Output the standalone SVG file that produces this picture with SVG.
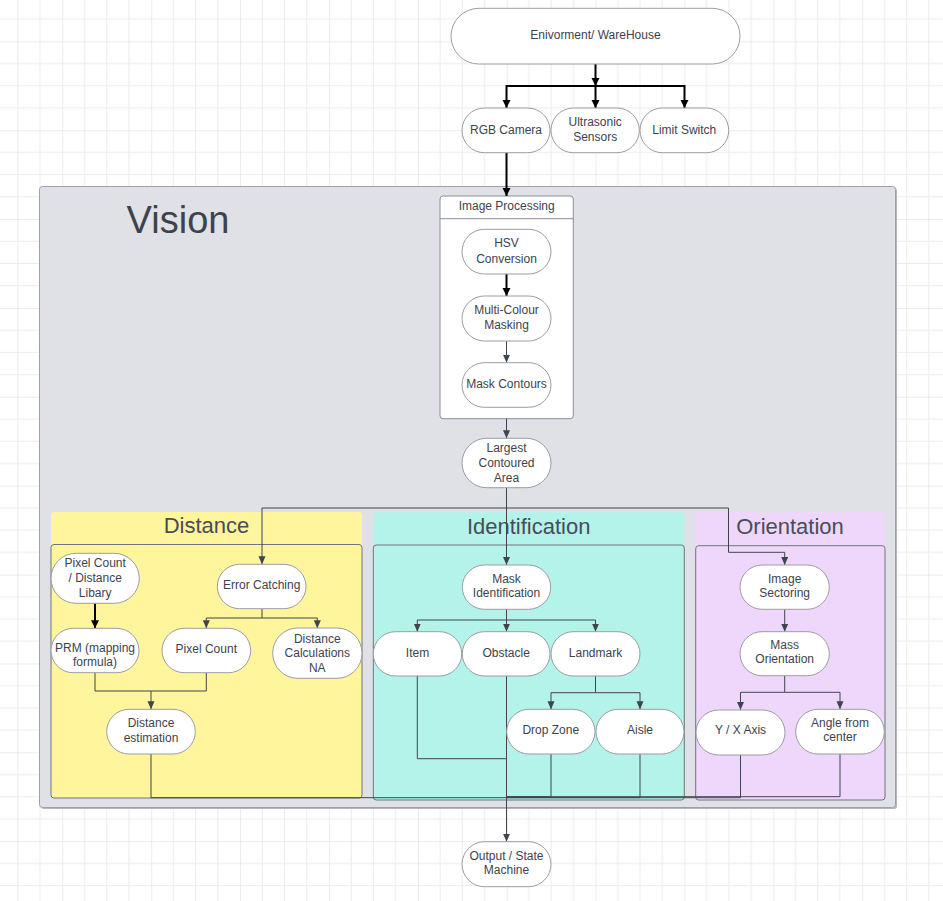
<svg xmlns="http://www.w3.org/2000/svg" width="943" height="901" viewBox="0 0 943 901">
  <defs>
    <pattern id="grid" patternUnits="userSpaceOnUse" x="62.3" y="41.3" width="88.88" height="88.88">
      <path d="M22.22,0 V88.88 M44.44,0 V88.88 M66.66,0 V88.88 M0,22.22 H88.88 M0,44.44 H88.88 M0,66.66 H88.88" stroke="#ececec" stroke-width="1" fill="none"/>
      <path d="M0,0 V88.88 M0,0 H88.88" stroke="#dadada" stroke-width="1" fill="none"/>
    </pattern>
    <marker id="arrowBlack" markerUnits="userSpaceOnUse" markerWidth="9" markerHeight="9" refX="8" refY="4" orient="auto">
      <path d="M0,0 L8,4 L0,8 z" fill="#000"/>
    </marker>
    <marker id="arrowGray" markerUnits="userSpaceOnUse" markerWidth="9" markerHeight="8" refX="8" refY="3.5" orient="auto">
      <path d="M0,0 L8,3.5 L0,7 z" fill="#3f454e"/>
    </marker>
  </defs>
  <style>
    text { font-family: "Liberation Sans", Arial, sans-serif; fill: #3d434d; text-anchor: middle; }
    .lbl { font-size: 12px; }
    .title { font-size: 22px; fill: #474d57; }
    .node { fill: #ffffff; stroke: #9a9da3; stroke-width: 1; }
    .body { fill: none; stroke: #6f747c; stroke-width: 1; }
    .k { fill: none; stroke: #000; stroke-width: 2; marker-end: url(#arrowBlack); }
    .g { fill: none; stroke: #3f454e; stroke-width: 1; stroke-linejoin: round; }
    .ga { marker-end: url(#arrowGray); }
  </style>

  <!-- canvas grid -->
  <rect x="0" y="0" width="943" height="901" fill="#ffffff"/>
  <rect x="0" y="0" width="943" height="901" fill="url(#grid)"/>

  <!-- Vision container -->
  <g id="vision">
    <rect x="41" y="188" width="856" height="621" rx="3" fill="#b4b7bd"/>
    <rect x="39.5" y="186.5" width="856" height="621" rx="3" fill="#dfe1e6" stroke="#9da1a8"/>
    <text x="178" y="233" style="font-size:38px;fill:#3d434d">Vision</text>
  </g>

  <!-- swimlane panels -->
  <g id="panel-distance">
    <rect x="51" y="512" width="311" height="286" rx="3" fill="#fff59d"/>
    <rect x="51" y="544.5" width="311" height="253.5" rx="3" class="body"/>
    <text x="206.5" y="533.3" class="title">Distance</text>
  </g>
  <g id="panel-identification">
    <rect x="373.3" y="512.3" width="311" height="288" rx="3" fill="#b4f3ea"/>
    <rect x="373.3" y="545" width="311" height="255" rx="3" class="body"/>
    <text x="528.7" y="534.3" class="title">Identification</text>
  </g>
  <g id="panel-orientation">
    <rect x="695.7" y="512.3" width="189.3" height="288" rx="3" fill="#efd7fc"/>
    <rect x="695.7" y="545.7" width="189.3" height="254.3" rx="3" class="body"/>
    <text x="790" y="534.3" class="title">Orientation</text>
  </g>

  <!-- Image Processing container -->
  <g id="image-processing">
    <rect x="440" y="196" width="133.3" height="222.7" rx="3" fill="#ffffff" stroke="#8a8f96"/>
    <line x1="440" y1="218.7" x2="573.3" y2="218.7" stroke="#8a8f96"/>
    <text x="506.7" y="210" class="lbl">Image Processing</text>
  </g>

  <!-- connectors -->
  <g id="connectors">
    <path class="k" d="M595.5,64 V86"/>
    <path class="k" d="M595.5,86 H506.5 V108"/>
    <path class="k" d="M595.5,86 V108"/>
    <path class="k" d="M595.5,86 H684.5 V108"/>
    <path class="k" d="M506.5,153 V196"/>
    <path class="k" d="M506.5,274 V296"/>
    <path class="k" d="M95,603.3 V628.3"/>

    <path class="g ga" d="M506.5,341 V362.7"/>
    <path class="g ga" d="M506.5,418.7 V438.3"/>
    <path class="g ga" d="M506.5,488 V565"/>
    <path class="g ga" d="M506.5,508 H262 V564.3"/>
    <path class="g ga" d="M506.5,508 H728.5 V552.3 H784.7 V565"/>

    <path class="g ga" d="M262,608.7 V618 H206.3 V628.3"/>
    <path class="g ga" d="M262,618 H317.3 V628.3"/>
    <path class="g ga" d="M95,672.7 V691 H151 V709.3"/>
    <path class="g" d="M206.3,672.7 V691 H151"/>
    <path class="g" d="M151,754 V797.7 H506.5"/>

    <path class="g ga" d="M506.5,609.3 V620 H417.3 V631.7"/>
    <path class="g ga" d="M506.5,620 V631.7"/>
    <path class="g ga" d="M506.5,620 H595.5 V631.7"/>
    <path class="g ga" d="M595.5,676 V692.7 H551 V709.3"/>
    <path class="g ga" d="M595.5,692.7 H640 V709.3"/>
    <path class="g" d="M417.3,676 V758.7 H506.5"/>
    <path class="g ga" d="M506.5,676 V841.7"/>
    <path class="g" d="M551,754 V796.7 H506.5"/>
    <path class="g" d="M640,754 V797.7 H506.5"/>

    <path class="g ga" d="M784.7,609.3 V631.7"/>
    <path class="g ga" d="M784.7,675.7 V692.3 H740.5 V710"/>
    <path class="g ga" d="M784.7,692.3 H840 V709.3"/>
    <path class="g" d="M740.5,755 V797.7 H506.5"/>
    <path class="g" d="M840,754 V796.7 H506.5"/>
  </g>

  <!-- sources -->
  <g id="environment">
    <rect x="451" y="8.3" width="289" height="55.7" rx="27.8" class="node"/>
    <text x="595.5" y="38.5" class="lbl">Enivorment/ WareHouse</text>
  </g>
  <g id="rgb-camera">
    <rect x="462" y="108" width="88" height="44.7" rx="22.3" class="node"/>
    <text x="506" y="133.5" class="lbl">RGB Camera</text>
  </g>
  <g id="ultrasonic">
    <rect x="551" y="108" width="88.3" height="44.7" rx="22.3" class="node"/>
    <text x="595.2" y="126" class="lbl">Ultrasonic</text>
    <text x="595.2" y="140.7" class="lbl">Sensors</text>
  </g>
  <g id="limit-switch">
    <rect x="640" y="108" width="88.7" height="44.7" rx="22.3" class="node"/>
    <text x="684.3" y="133.5" class="lbl">Limit Switch</text>
  </g>

  <!-- image processing steps -->
  <g id="hsv">
    <rect x="462" y="229.3" width="89" height="44.7" rx="22.3" class="node"/>
    <text x="506.5" y="247.3" class="lbl">HSV</text>
    <text x="506.5" y="262.7" class="lbl">Conversion</text>
  </g>
  <g id="multi-colour">
    <rect x="462" y="296" width="89" height="45" rx="22.5" class="node"/>
    <text x="506.5" y="314" class="lbl">Multi-Colour</text>
    <text x="506.5" y="329.3" class="lbl">Masking</text>
  </g>
  <g id="mask-contours">
    <rect x="462" y="362.7" width="89" height="44.6" rx="22.3" class="node"/>
    <text x="506.5" y="388.3" class="lbl">Mask Contours</text>
  </g>
  <g id="largest-area">
    <rect x="462" y="438.3" width="89" height="49.4" rx="24.7" class="node"/>
    <text x="506.5" y="452.3" class="lbl">Largest</text>
    <text x="506.5" y="467.3" class="lbl">Contoured</text>
    <text x="506.5" y="481.7" class="lbl">Area</text>
  </g>

  <!-- distance -->
  <g id="pixel-library">
    <rect x="51" y="553.3" width="88.3" height="50" rx="25" class="node"/>
    <text x="95.2" y="566.7" class="lbl">Pixel Count</text>
    <text x="95.2" y="581.7" class="lbl">/ Distance</text>
    <text x="95.2" y="596.7" class="lbl">Libary</text>
  </g>
  <g id="error-catching">
    <rect x="217.3" y="564.3" width="88.7" height="44.4" rx="22.2" class="node"/>
    <text x="261.7" y="589.3" class="lbl">Error Catching</text>
  </g>
  <g id="prm">
    <rect x="51" y="628.3" width="88" height="44.4" rx="22.2" class="node"/>
    <text x="95" y="651.5" class="lbl">PRM (mapping</text>
    <text x="95" y="665.8" class="lbl">formula)</text>
  </g>
  <g id="pixel-count">
    <rect x="162" y="628.3" width="88.7" height="44.4" rx="22.2" class="node"/>
    <text x="206.3" y="653.3" class="lbl">Pixel Count</text>
  </g>
  <g id="distance-calc">
    <rect x="272.7" y="628" width="89.3" height="50.3" rx="25" class="node"/>
    <text x="317.3" y="642.7" class="lbl">Distance</text>
    <text x="317.3" y="657.3" class="lbl">Calculations</text>
    <text x="317.3" y="672.3" class="lbl">NA</text>
  </g>
  <g id="distance-estimation">
    <rect x="106.7" y="709.3" width="88.6" height="44.7" rx="22.3" class="node"/>
    <text x="151" y="726.7" class="lbl">Distance</text>
    <text x="151" y="741.7" class="lbl">estimation</text>
  </g>

  <!-- identification -->
  <g id="mask-identification">
    <rect x="462.3" y="565" width="88.4" height="44.3" rx="22.2" class="node"/>
    <text x="506.5" y="582.7" class="lbl">Mask</text>
    <text x="506.5" y="596.7" class="lbl">Identification</text>
  </g>
  <g id="item">
    <rect x="373.3" y="631.7" width="88.4" height="44.3" rx="22.2" class="node"/>
    <text x="417.5" y="656.7" class="lbl">Item</text>
  </g>
  <g id="obstacle">
    <rect x="462.3" y="631.7" width="87.7" height="44.3" rx="22.2" class="node"/>
    <text x="506.2" y="656.7" class="lbl">Obstacle</text>
  </g>
  <g id="landmark">
    <rect x="551" y="631.7" width="89" height="44.3" rx="22.2" class="node"/>
    <text x="595.5" y="656.7" class="lbl">Landmark</text>
  </g>
  <g id="drop-zone">
    <rect x="506.7" y="709.3" width="88.3" height="44.7" rx="22.3" class="node"/>
    <text x="550.8" y="734.3" class="lbl">Drop Zone</text>
  </g>
  <g id="aisle">
    <rect x="596" y="709.3" width="88" height="44.7" rx="22.3" class="node"/>
    <text x="640" y="734.3" class="lbl">Aisle</text>
  </g>

  <!-- orientation -->
  <g id="image-sectoring">
    <rect x="740" y="565" width="89.3" height="44.3" rx="22.2" class="node"/>
    <text x="784.7" y="582.7" class="lbl">Image</text>
    <text x="784.7" y="596.7" class="lbl">Sectoring</text>
  </g>
  <g id="mass-orientation">
    <rect x="740" y="631.7" width="89.3" height="44" rx="22" class="node"/>
    <text x="784.7" y="649" class="lbl">Mass</text>
    <text x="784.7" y="663.3" class="lbl">Orientation</text>
  </g>
  <g id="yx-axis">
    <rect x="696" y="710" width="89" height="45" rx="22.5" class="node"/>
    <text x="740.5" y="734.3" class="lbl">Y / X Axis</text>
  </g>
  <g id="angle-center">
    <rect x="795.7" y="709.3" width="88.6" height="44.7" rx="22.3" class="node"/>
    <text x="840" y="726.7" class="lbl">Angle from</text>
    <text x="840" y="740.7" class="lbl">center</text>
  </g>

  <!-- output -->
  <g id="output">
    <rect x="462" y="841.7" width="89" height="45" rx="22.5" class="node"/>
    <text x="506.5" y="860" class="lbl">Output / State</text>
    <text x="506.5" y="874.3" class="lbl">Machine</text>
  </g>
</svg>
